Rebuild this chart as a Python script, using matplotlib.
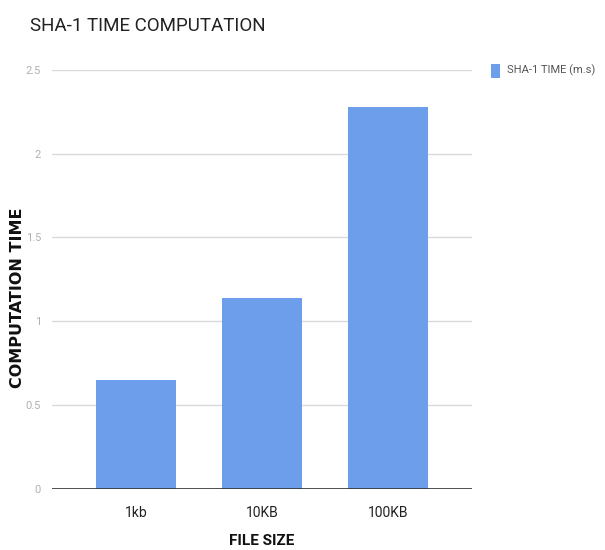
import matplotlib
matplotlib.use("Agg")
import matplotlib.pyplot as plt
from matplotlib.patches import Rectangle

# SHA-1 hashing time per file size
sizes = ["1kb", "10KB", "100KB"]
times_ms = [0.65, 1.14, 2.28]
yticks = [0, 0.5, 1, 1.5, 2, 2.5]
ytick_labels = ["0", "0.5", "1", "1.5", "2", "2.5"]

BAR = "#6d9eeb"
NARROW = ["Roboto", "DejaVu Sans"]

fig = plt.figure(figsize=(6.05, 5.5), dpi=100)
ax = fig.add_axes([0.086, 0.111, 0.694, 0.762])

x = range(len(sizes))
ax.bar(x, times_ms, width=0.64, color=BAR, zorder=3)

ax.set_xlim(-0.667, 2.667)
ax.set_ylim(0, 2.5)
ax.set_yticks(yticks)
ax.set_yticklabels(ytick_labels, family=NARROW, fontsize=8, color="#b0b0b0")
ax.set_xticks(list(x))
ax.set_xticklabels(sizes, family=NARROW, fontsize=10, color="#222222")
ax.tick_params(axis="both", length=0)
ax.tick_params(axis="y", pad=8)
ax.tick_params(axis="x", pad=12)

ax.grid(axis="y", color="#d9d9d9", linewidth=1, zorder=0)
ax.axhline(0, color="#333333", linewidth=1.2, zorder=4)
for s in ax.spines.values():
    s.set_visible(False)

# axis titles placed in figure coordinates
fig.text(0.432, 0.016, "FILE SIZE", family=NARROW, fontsize=11, fontweight="bold",
         ha="center", va="center", color="#111111")
fig.text(0.029, 0.458, "COMPUTATION TIME", family="DejaVu Sans", fontsize=11.5,
         fontweight="bold", rotation=90, ha="center", va="center", color="#111111")

fig.text(0.05, 0.952, "SHA-1 TIME COMPUTATION", family=NARROW, fontsize=13.5,
         color="#222222", va="center", ha="left")

# legend entry on the right
fig.patches.append(Rectangle((0.812, 0.858), 0.014, 0.026, transform=fig.transFigure,
                             facecolor=BAR, edgecolor="none"))
fig.text(0.838, 0.872, "SHA-1 TIME (m.s)", family=NARROW, fontsize=8,
         color="#555555", va="center", ha="left")

fig.savefig("out.png", dpi=100)
